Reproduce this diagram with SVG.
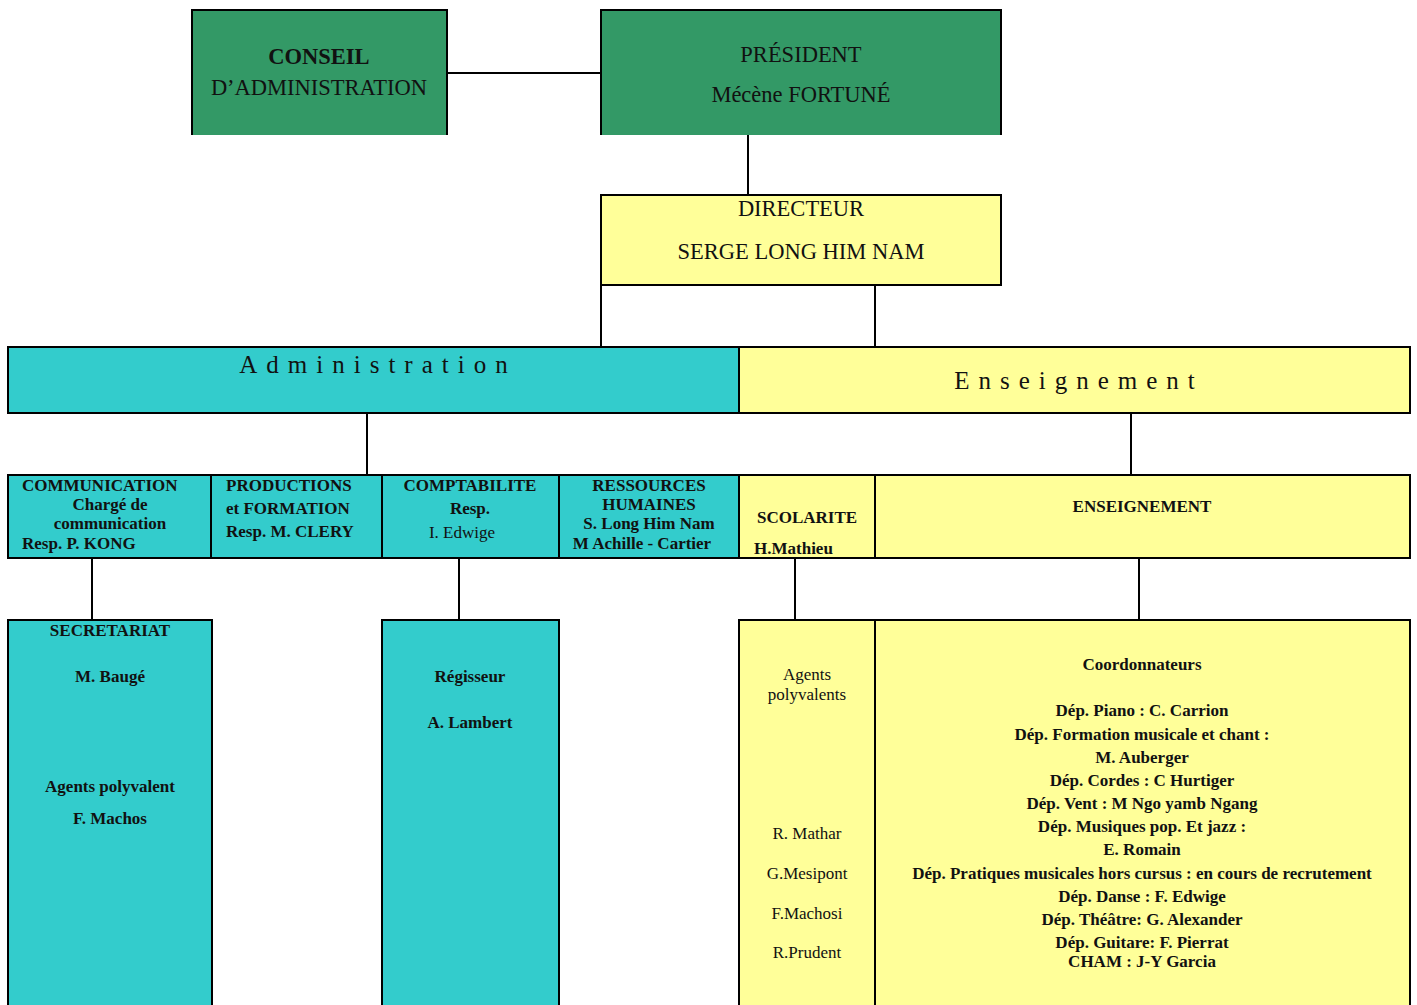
<svg xmlns="http://www.w3.org/2000/svg" width="1417" height="1005" viewBox="0 0 1417 1005">
<style>
.b{stroke:#000;stroke-width:2}
.g{fill:#339966}.c{fill:#33CCCC}.y{fill:#FFFF99}
text{font-family:"Liberation Serif","Times New Roman",serif;fill:#111}
.t20{font-size:22.5px}
.s{font-size:17px;font-weight:bold}
.r{font-size:17px}
.m{text-anchor:middle}
.sp{font-size:25px;letter-spacing:9px}
.ln{stroke:#000;stroke-width:2;fill:none}
</style>
<rect width="1417" height="1005" fill="#fff"/>
<g id="connectors">
<line class="ln" x1="447" y1="73" x2="600" y2="73"/>
<line class="ln" x1="748" y1="134" x2="748" y2="195"/>
<line class="ln" x1="601" y1="285" x2="601" y2="347"/>
<line class="ln" x1="875" y1="285" x2="875" y2="347"/>
<line class="ln" x1="367" y1="413" x2="367" y2="475"/>
<line class="ln" x1="1131" y1="413" x2="1131" y2="475"/>
<line class="ln" x1="92" y1="558" x2="92" y2="620"/>
<line class="ln" x1="459" y1="558" x2="459" y2="620"/>
<line class="ln" x1="795" y1="558" x2="795" y2="620"/>
<line class="ln" x1="1139" y1="558" x2="1139" y2="620"/>
</g>
<g id="conseil">
<rect class="g" x="192" y="10" width="255" height="125"/>
<path class="ln" d="M192,135 V10 H447 V135"/>
<text class="t20 m" x="319" y="64" font-weight="bold">CONSEIL</text>
<text class="t20 m" x="319" y="95">D’ADMINISTRATION</text>
</g>
<g id="president">
<rect class="g" x="601" y="10" width="400" height="125"/>
<path class="ln" d="M601,135 V10 H1001 V135"/>
<text class="t20 m" x="801" y="62">PRÉSIDENT</text>
<text class="t20 m" x="801" y="102">Mécène FORTUNÉ</text>
</g>
<g id="directeur">
<rect class="y b" x="601" y="195" width="400" height="90"/>
<text class="t20 m" x="801" y="216">DIRECTEUR</text>
<text class="t20 m" x="801" y="259">SERGE LONG HIM NAM</text>
</g>
<g id="administration">
<rect class="c b" x="8" y="347" width="731" height="66"/>
<text class="sp m" x="378" y="373">Administration</text>
</g>
<g id="enseignement-band">
<rect class="y b" x="739" y="347" width="671" height="66"/>
<text class="sp m" x="1079" y="389">Enseignement</text>
</g>
<g id="communication">
<rect class="c b" x="8" y="475" width="203" height="83"/>
<text class="s" x="22" y="491">COMMUNICATION</text>
<text class="s m" x="110" y="510">Chargé de</text>
<text class="s m" x="110" y="529">communication</text>
<text class="s" x="22" y="549">Resp. P. KONG</text>
</g>
<g id="productions">
<rect class="c b" x="211" y="475" width="171" height="83"/>
<text class="s" x="226" y="491">PRODUCTIONS</text>
<text class="s" x="226" y="514">et FORMATION</text>
<text class="s" x="226" y="537">Resp. M. CLERY</text>
</g>
<g id="comptabilite">
<rect class="c b" x="382" y="475" width="177" height="83"/>
<text class="s m" x="470" y="491">COMPTABILITE</text>
<text class="s m" x="470" y="514">Resp.</text>
<text class="r m" x="462" y="538">I. Edwige</text>
</g>
<g id="rh">
<rect class="c b" x="559" y="475" width="180" height="83"/>
<text class="s m" x="649" y="491">RESSOURCES</text>
<text class="s m" x="649" y="510">HUMAINES</text>
<text class="s m" x="649" y="529">S. Long Him Nam</text>
<text class="s m" x="642" y="549">M Achille - Cartier</text>
</g>
<g id="scolarite">
<rect class="y b" x="739" y="475" width="136" height="83"/>
<text class="s m" x="807" y="523">SCOLARITE</text>
<text class="s" x="754" y="554">H.Mathieu</text>
</g>
<g id="enseignement">
<rect class="y b" x="875" y="475" width="535" height="83"/>
<text class="s m" x="1142" y="512">ENSEIGNEMENT</text>
</g>
<g id="secretariat">
<rect class="c" x="8" y="620" width="204" height="390"/>
<path class="ln" d="M8,1006 V620 H212 V1006"/>
<text class="s m" x="110" y="636">SECRETARIAT</text>
<text class="s m" x="110" y="682">M. Baugé</text>
<text class="s m" x="110" y="792">Agents polyvalent</text>
<text class="s m" x="110" y="824">F. Machos</text>
</g>
<g id="regisseur">
<rect class="c" x="382" y="620" width="177" height="390"/>
<path class="ln" d="M382,1006 V620 H559 V1006"/>
<text class="s m" x="470" y="682">Régisseur</text>
<text class="s m" x="470" y="728">A. Lambert</text>
</g>
<g id="agents">
<rect class="y" x="739" y="620" width="136" height="390"/>
<path class="ln" d="M739,1006 V620 H875 V1006"/>
<text class="r m" x="807" y="680">Agents</text>
<text class="r m" x="807" y="700">polyvalents</text>
<text class="r m" x="807" y="839">R. Mathar</text>
<text class="r m" x="807" y="879">G.Mesipont</text>
<text class="r m" x="807" y="919">F.Machosi</text>
<text class="r m" x="807" y="958">R.Prudent</text>
</g>
<g id="coordonnateurs">
<rect class="y" x="875" y="620" width="535" height="390"/>
<path class="ln" d="M875,1006 V620 H1410 V1006"/>
<text class="s m" x="1142" y="670">Coordonnateurs</text>
<text class="s m" x="1142" y="716">Dép. Piano : C. Carrion</text>
<text class="s m" x="1142" y="740">Dép. Formation musicale et chant :</text>
<text class="s m" x="1142" y="763">M. Auberger</text>
<text class="s m" x="1142" y="786">Dép. Cordes : C Hurtiger</text>
<text class="s m" x="1142" y="809">Dép. Vent : M Ngo yamb Ngang</text>
<text class="s m" x="1142" y="832">Dép. Musiques pop. Et jazz :</text>
<text class="s m" x="1142" y="855">E. Romain</text>
<text class="s m" x="1142" y="879">Dép. Pratiques musicales hors cursus : en cours de recrutement</text>
<text class="s m" x="1142" y="902">Dép. Danse : F. Edwige</text>
<text class="s m" x="1142" y="925">Dép. Théâtre: G. Alexander</text>
<text class="s m" x="1142" y="948">Dép. Guitare: F. Pierrat</text>
<text class="s m" x="1142" y="967">CHAM : J-Y Garcia</text>
</g>
</svg>
